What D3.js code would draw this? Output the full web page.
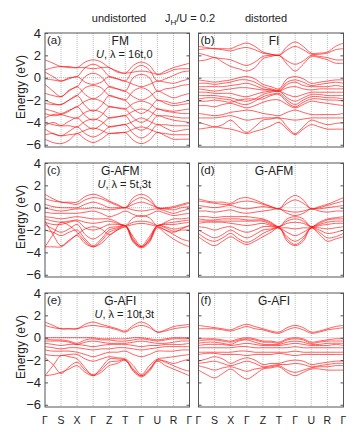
<!DOCTYPE html>
<html>
<head>
<meta charset="utf-8">
<script src="https://cdn.jsdelivr.net/npm/d3@7/dist/d3.min.js"></script>
<style>
  body { margin: 0; background: #fff; }
  text { font-family: "Liberation Sans", Arial, sans-serif; fill: #222; }
</style>
</head>
<body>
<div id="chart"></div>
<script>
// k-path labels (high symmetry points), bands sampled at each point and halfway between
var kLabels = ["Γ", "S", "X", "Γ", "Z", "T", "Γ", "U", "R", "Γ"];
var yTicks = [-6, -4, -2, 0, 2, 4];

// (a) undistorted FM
var bandsA = [
  [1.6, 1.3, 1.0, 1.0, 0.9, 1.4, 1.6, 1.4, 0.9, 0.6, 0.4, 1.1, 1.4, 1.1, 0.3, 0.6, 0.9, 1.1, 1.3],
  [0.7, 0.9, 1.0, 0.9, 0.9, 0.9, 0.8, 0.9, 0.9, 0.5, 0.4, 0.5, 0.6, 0.5, 0.3, 0.4, 0.7, 0.8, 0.8],
  [0.5, 0.1, -0.3, 0.0, 0.1, 0.9, 1.2, 0.9, 0.1, -0.1, -0.3, 0.7, 1.1, 0.7, -0.3, -0.1, 0.2, 0.5, 0.6],
  [-0.1, -0.2, -0.3, -0.1, 0.1, -0.4, -0.6, -0.4, 0.1, -0.1, -0.3, -0.6, -0.8, -0.6, -0.3, -0.4, -0.5, -0.3, -0.1],
  [-0.6, -1.2, -1.7, -1.1, -0.8, 0.1, 0.4, 0.1, -0.8, -1.0, -1.2, 0.0, 0.3, 0.0, -1.2, -1.0, -0.9, -0.7, -0.6],
  [-1.4, -1.6, -1.7, -1.2, -0.8, -1.5, -1.9, -1.5, -0.8, -1.0, -1.2, -1.7, -2.0, -1.7, -1.2, -1.5, -1.8, -1.6, -1.4],
  [-2.0, -2.3, -2.4, -2.0, -1.6, -0.9, -0.7, -0.9, -1.6, -1.8, -2.0, -1.2, -0.9, -1.2, -2.0, -2.1, -2.3, -2.2, -2.0],
  [-2.3, -2.4, -2.4, -2.0, -1.6, -2.5, -3.0, -2.5, -1.6, -1.8, -2.0, -2.8, -3.2, -2.8, -2.0, -2.3, -2.5, -2.4, -2.3],
  [-2.8, -3.0, -3.2, -2.9, -2.6, -2.1, -1.9, -2.1, -2.6, -2.7, -2.8, -2.3, -2.1, -2.3, -2.8, -2.9, -3.0, -2.9, -2.8],
  [-3.2, -3.4, -3.3, -3.0, -2.6, -3.4, -3.8, -3.4, -2.6, -2.7, -2.8, -3.6, -4.0, -3.6, -2.8, -3.0, -3.1, -3.2, -3.2],
  [-3.6, -3.3, -3.3, -3.5, -3.6, -3.1, -2.9, -3.1, -3.6, -3.5, -3.4, -3.0, -2.8, -3.0, -3.4, -3.4, -3.5, -3.6, -3.6],
  [-4.0, -4.2, -4.3, -3.9, -3.6, -4.2, -4.6, -4.2, -3.6, -3.5, -3.4, -4.3, -4.7, -4.3, -3.4, -3.6, -3.8, -3.9, -4.0],
  [-4.3, -4.0, -4.3, -4.3, -4.4, -3.9, -3.7, -3.9, -4.4, -4.3, -4.2, -3.9, -3.6, -3.9, -4.2, -4.2, -4.3, -4.3, -4.3],
  [-4.6, -5.0, -5.2, -4.8, -4.4, -5.0, -5.3, -5.0, -4.4, -4.3, -4.2, -5.0, -5.4, -5.0, -4.2, -4.5, -4.8, -4.7, -4.6],
  [-5.1, -5.0, -5.2, -5.1, -5.0, -4.7, -4.5, -4.7, -5.0, -4.9, -4.9, -4.6, -4.4, -4.6, -4.9, -5.0, -5.1, -5.1, -5.1],
  [-5.5, -5.8, -5.9, -5.6, -5.0, -5.5, -5.8, -5.5, -5.0, -5.0, -4.9, -5.6, -5.9, -5.6, -4.9, -5.2, -5.5, -5.5, -5.5]
];

// (b) distorted FI
var bandsB = [
  [2.8, 2.7, 2.6, 2.6, 2.6, 2.9, 3.1, 2.8, 2.3, 2.1, 2.0, 2.8, 3.2, 2.8, 2.2, 2.2, 2.3, 2.8, 3.1],
  [2.5, 2.6, 2.6, 2.5, 2.4, 2.6, 2.7, 2.5, 2.2, 2.1, 2.0, 2.5, 2.8, 2.5, 2.1, 2.1, 2.2, 2.5, 2.6],
  [2.2, 2.0, 1.8, 1.7, 1.6, 1.3, 1.1, 1.4, 1.9, 2.0, 2.0, 1.5, 1.2, 1.5, 2.0, 1.9, 1.8, 1.6, 1.6],
  [1.5, 1.6, 1.8, 1.4, 1.0, 0.8, 0.6, 0.9, 1.7, 1.9, 2.0, 1.2, 0.6, 1.2, 1.9, 1.8, 1.6, 1.3, 1.3],
  [-0.2, -0.3, -0.4, -0.3, -0.2, 0.0, 0.1, -0.1, -0.6, -0.8, -1.0, -0.1, 0.1, -0.1, -0.5, -0.4, -0.3, -0.2, -0.2],
  [-0.5, -0.5, -0.6, -0.5, -0.4, -0.2, -0.2, -0.4, -0.8, -1.0, -1.1, -0.4, -0.2, -0.4, -0.7, -0.6, -0.5, -0.4, -0.5],
  [-0.8, -0.8, -0.8, -0.8, -0.7, -0.6, -0.5, -0.7, -1.0, -1.1, -1.2, -0.6, -0.4, -0.7, -0.8, -0.8, -0.8, -0.7, -0.8],
  [-1.0, -1.1, -1.2, -1.1, -1.0, -0.9, -0.9, -1.0, -1.1, -1.1, -1.2, -0.9, -0.8, -1.0, -1.1, -1.0, -1.0, -1.0, -1.0],
  [-1.3, -1.3, -1.4, -1.4, -1.4, -1.6, -1.7, -1.5, -1.3, -1.2, -1.2, -1.5, -1.7, -1.5, -1.3, -1.3, -1.3, -1.3, -1.3],
  [-1.6, -1.6, -1.6, -1.7, -1.8, -2.0, -2.1, -1.9, -1.5, -1.3, -1.2, -1.8, -2.1, -1.8, -1.5, -1.5, -1.6, -1.6, -1.6],
  [-1.9, -1.8, -1.8, -1.9, -2.0, -2.3, -2.4, -2.1, -1.7, -1.5, -1.4, -2.0, -2.4, -2.0, -1.7, -1.7, -1.8, -1.8, -1.9],
  [-2.1, -2.1, -2.0, -2.1, -2.2, -2.0, -1.9, -1.9, -1.9, -1.6, -1.5, -2.2, -2.6, -2.2, -1.9, -1.9, -2.0, -2.0, -2.1],
  [-2.5, -2.5, -2.6, -2.4, -2.3, -2.5, -2.7, -2.5, -2.2, -2.0, -2.0, -2.4, -2.7, -2.4, -2.1, -2.2, -2.3, -2.4, -2.5],
  [-3.2, -3.3, -3.4, -3.3, -3.1, -3.0, -2.9, -3.0, -3.2, -3.3, -3.4, -3.1, -2.9, -3.1, -3.3, -3.3, -3.3, -3.3, -3.2],
  [-3.6, -3.6, -3.6, -3.5, -3.4, -3.6, -3.8, -3.7, -3.6, -3.6, -3.6, -3.7, -3.8, -3.7, -3.6, -3.6, -3.6, -3.6, -3.6],
  [-4.0, -4.2, -4.4, -4.2, -3.8, -4.4, -4.9, -4.4, -3.8, -3.7, -3.6, -4.4, -5.0, -4.4, -3.8, -4.0, -4.2, -4.1, -4.0],
  [-4.6, -4.5, -4.4, -4.5, -4.6, -4.8, -5.0, -4.8, -4.6, -4.3, -4.0, -4.6, -5.1, -4.6, -4.2, -4.4, -4.6, -4.6, -4.6]
];

// (c) undistorted G-AFM
var bandsC = [
  [1.2, 0.8, 0.5, 0.5, 0.5, 1.0, 1.2, 1.0, 0.6, 0.3, 0.0, 0.9, 1.2, 0.9, 0.0, 0.0, 0.1, 0.3, 0.5],
  [0.8, 0.6, 0.5, 0.4, 0.3, 0.7, 0.9, 0.8, 0.5, 0.2, 0.0, 0.6, 0.9, 0.6, 0.0, -0.1, 0.0, 0.2, 0.4],
  [0.3, 0.1, 0.0, 0.0, 0.0, 0.3, 0.5, 0.3, 0.0, 0.0, 0.0, 0.3, 0.5, 0.3, 0.0, -0.1, -0.2, 0.0, 0.1],
  [0.0, -0.2, -0.3, -0.2, -0.1, -0.1, 0.0, -0.1, -0.2, -0.1, 0.0, -0.2, -0.3, -0.2, -0.1, -0.3, -0.5, -0.3, -0.1],
  [-0.4, -0.5, -0.5, -0.5, -0.5, -0.4, -0.3, -0.5, -0.8, -0.6, -0.3, -0.6, -0.8, -0.6, -0.3, -0.5, -0.7, -0.6, -0.5],
  [-0.8, -0.9, -1.0, -0.9, -0.8, -0.9, -1.0, -1.0, -1.0, -1.3, -1.6, -0.9, -0.7, -0.9, -1.6, -1.3, -1.0, -1.0, -0.9],
  [-1.0, -1.2, -1.3, -1.2, -1.1, -1.3, -1.4, -1.3, -1.2, -1.4, -1.6, -1.3, -1.2, -1.3, -1.6, -1.4, -1.3, -1.2, -1.1],
  [-1.3, -1.5, -1.5, -1.3, -1.2, -1.8, -2.0, -1.8, -1.5, -1.5, -1.6, -2.6, -3.4, -2.6, -1.6, -1.5, -1.5, -1.4, -1.3],
  [-1.5, -1.9, -2.2, -1.9, -1.5, -2.4, -2.8, -2.4, -1.8, -1.7, -1.6, -2.8, -3.5, -2.8, -1.6, -1.7, -1.9, -1.8, -1.6],
  [-2.0, -2.2, -2.5, -2.2, -2.0, -2.8, -3.4, -2.8, -2.0, -1.8, -1.6, -2.9, -3.5, -2.9, -1.6, -1.8, -2.1, -2.0, -2.0],
  [-3.5, -2.4, -1.3, -1.6, -2.2, -3.0, -3.5, -3.0, -2.2, -1.9, -1.6, -3.0, -3.5, -3.0, -1.7, -2.0, -2.4, -2.8, -3.0],
  [-3.5, -3.5, -3.5, -3.0, -2.5, -3.2, -3.5, -3.2, -2.5, -2.0, -1.7, -3.1, -3.6, -3.1, -1.8, -2.3, -2.8, -3.2, -3.5],
  [-1.2, -2.4, -3.4, -2.9, -2.4, -1.9, -1.7, -1.9, -2.4, -2.0, -1.7, -1.5, -1.4, -1.5, -1.7, -2.0, -2.2, -1.9, -1.6]
];

// (d) distorted G-AFM
var bandsD = [
  [0.8, 0.6, 0.5, 0.5, 0.4, 0.8, 0.9, 0.7, 0.4, 0.1, -0.1, 0.7, 1.1, 0.7, -0.1, 0.1, 0.3, 0.6, 0.9],
  [0.6, 0.5, 0.4, 0.3, 0.3, 0.5, 0.6, 0.5, 0.3, 0.1, -0.1, 0.4, 0.7, 0.4, -0.1, 0.0, 0.2, 0.4, 0.6],
  [0.2, 0.1, 0.0, 0.1, 0.2, 0.0, -0.1, 0.0, 0.1, 0.0, -0.1, -0.3, -0.4, -0.3, -0.1, -0.1, 0.0, 0.1, 0.2],
  [-0.3, -0.3, -0.4, -0.3, -0.2, -0.4, -0.5, -0.4, -0.3, -0.2, -0.1, -0.5, -0.7, -0.5, -0.1, -0.3, -0.4, -0.3, -0.3],
  [-0.8, -0.8, -0.9, -0.8, -0.8, -0.8, -0.8, -0.9, -1.0, -1.3, -1.7, -1.0, -0.8, -1.0, -1.7, -1.3, -1.0, -0.9, -0.8],
  [-1.0, -1.1, -1.1, -1.0, -1.0, -1.0, -1.1, -1.1, -1.1, -1.4, -1.7, -1.2, -1.0, -1.2, -1.7, -1.4, -1.1, -1.0, -1.0],
  [-1.2, -1.2, -1.2, -1.2, -1.2, -1.2, -1.2, -1.2, -1.2, -1.5, -1.7, -1.4, -1.3, -1.4, -1.7, -1.5, -1.3, -1.2, -1.2],
  [-1.4, -1.3, -1.3, -1.3, -1.4, -1.5, -1.6, -1.5, -1.4, -1.6, -1.8, -1.8, -1.9, -1.8, -1.8, -1.6, -1.5, -1.4, -1.4],
  [-1.7, -1.8, -2.0, -1.8, -1.7, -2.0, -2.2, -2.0, -1.7, -1.7, -1.8, -2.2, -2.5, -2.2, -1.8, -1.8, -1.9, -1.8, -1.7],
  [-2.0, -2.4, -2.7, -2.4, -2.0, -2.4, -2.7, -2.4, -2.0, -1.9, -1.8, -2.6, -3.0, -2.6, -1.8, -2.0, -2.3, -2.2, -2.0],
  [-2.3, -2.8, -3.0, -2.7, -2.3, -2.8, -3.1, -2.8, -2.3, -2.0, -1.8, -2.8, -3.3, -2.8, -1.8, -2.2, -2.7, -2.6, -2.3],
  [-2.6, -3.1, -3.4, -3.0, -2.6, -3.0, -3.3, -3.0, -2.6, -2.2, -1.8, -3.0, -3.4, -3.0, -1.8, -2.4, -3.0, -2.8, -2.6]
];

// (e) undistorted G-AFI
var bandsE = [
  [1.4, 1.1, 0.8, 0.8, 0.8, 1.2, 1.4, 1.2, 1.0, 0.8, 0.6, 1.1, 1.4, 1.1, 0.5, 0.7, 1.0, 1.1, 1.2],
  [1.1, 0.9, 0.8, 0.8, 0.8, 1.0, 1.1, 1.0, 0.9, 0.7, 0.5, 0.9, 1.1, 0.9, 0.5, 0.6, 0.8, 0.9, 1.0],
  [0.0, 0.0, 0.0, 0.0, 0.0, 0.0, 0.0, -0.1, -0.1, -0.1, -0.1, 0.0, 0.0, -0.1, -0.2, -0.1, 0.0, 0.0, 0.0],
  [-0.1, -0.2, -0.2, -0.3, -0.5, -0.2, -0.1, -0.2, -0.2, -0.3, -0.3, -0.2, -0.1, -0.2, -0.3, -0.2, -0.1, -0.1, -0.1],
  [-0.3, -0.3, -0.3, -0.4, -0.6, -0.4, -0.3, -0.4, -0.5, -0.5, -0.5, -0.4, -0.3, -0.4, -0.5, -0.5, -0.4, -0.3, -0.3],
  [-0.5, -0.6, -0.7, -0.6, -0.6, -0.7, -0.8, -0.7, -0.6, -0.6, -0.6, -0.7, -0.8, -0.7, -0.7, -0.6, -0.6, -0.6, -0.5],
  [-0.8, -0.9, -1.0, -0.9, -0.9, -1.0, -1.1, -1.0, -1.0, -0.9, -0.9, -1.0, -1.1, -1.0, -0.9, -0.8, -0.8, -0.8, -0.8],
  [-1.1, -1.2, -1.2, -1.2, -1.3, -1.5, -1.7, -1.5, -1.3, -1.3, -1.2, -1.5, -1.7, -1.5, -1.2, -1.2, -1.2, -1.1, -1.1],
  [-1.5, -1.6, -1.6, -1.5, -1.5, -1.9, -2.1, -1.9, -1.7, -1.8, -1.9, -2.5, -3.3, -2.5, -1.9, -1.8, -1.7, -1.6, -1.5],
  [-1.8, -2.4, -3.2, -2.6, -2.2, -2.9, -3.3, -2.9, -2.2, -2.1, -2.0, -2.8, -3.4, -2.8, -2.0, -2.1, -2.3, -2.1, -1.9],
  [-3.4, -2.5, -1.6, -1.7, -1.9, -2.7, -3.4, -2.7, -1.9, -1.9, -2.0, -2.9, -3.4, -2.9, -2.0, -2.2, -2.5, -2.8, -3.0],
  [-3.4, -3.3, -3.1, -2.8, -2.5, -3.1, -3.4, -3.1, -2.5, -2.3, -2.0, -3.0, -3.5, -3.0, -2.1, -2.5, -2.8, -3.1, -3.4]
];

// (f) distorted G-AFI
var bandsF = [
  [1.1, 1.0, 0.9, 0.8, 0.7, 1.0, 1.2, 1.0, 0.8, 0.6, 0.5, 0.9, 1.1, 0.9, 0.5, 0.6, 0.8, 1.0, 1.1],
  [0.8, 0.8, 0.8, 0.7, 0.6, 0.8, 1.0, 0.8, 0.7, 0.5, 0.4, 0.7, 0.9, 0.7, 0.4, 0.5, 0.7, 0.8, 0.9],
  [-0.1, -0.1, -0.1, -0.2, -0.3, -0.1, 0.0, -0.1, -0.3, -0.3, -0.4, -0.1, 0.0, -0.1, -0.4, -0.3, -0.2, -0.1, -0.1],
  [-0.3, -0.2, -0.2, -0.3, -0.4, -0.2, -0.1, -0.2, -0.4, -0.4, -0.5, -0.2, -0.1, -0.2, -0.5, -0.4, -0.3, -0.3, -0.3],
  [-0.5, -0.4, -0.4, -0.5, -0.6, -0.3, -0.2, -0.4, -0.6, -0.6, -0.6, -0.4, -0.3, -0.4, -0.6, -0.6, -0.5, -0.5, -0.5],
  [-0.7, -0.6, -0.6, -0.6, -0.7, -0.6, -0.5, -0.6, -0.7, -0.7, -0.7, -0.6, -0.5, -0.6, -0.7, -0.7, -0.7, -0.6, -0.7],
  [-0.9, -0.9, -0.9, -0.9, -0.9, -0.8, -0.8, -0.9, -0.9, -0.9, -0.9, -0.9, -0.8, -0.9, -0.9, -0.9, -0.9, -0.9, -0.9],
  [-1.3, -1.3, -1.3, -1.3, -1.3, -1.2, -1.2, -1.3, -1.3, -1.3, -1.3, -1.3, -1.2, -1.3, -1.3, -1.3, -1.3, -1.3, -1.3],
  [-1.5, -1.4, -1.4, -1.5, -1.5, -1.5, -1.6, -1.5, -1.5, -1.5, -1.4, -1.5, -1.6, -1.5, -1.5, -1.5, -1.5, -1.5, -1.5],
  [-2.1, -1.9, -1.7, -1.9, -2.3, -2.0, -1.8, -2.0, -2.4, -2.3, -2.3, -2.1, -2.0, -2.1, -2.4, -2.3, -2.2, -2.1, -2.1],
  [-2.3, -2.2, -2.1, -2.3, -2.5, -2.3, -2.1, -2.3, -2.6, -2.5, -2.4, -2.4, -2.3, -2.4, -2.6, -2.5, -2.4, -2.3, -2.3],
  [-2.5, -2.7, -2.9, -2.7, -2.6, -2.8, -3.0, -2.8, -2.7, -2.6, -2.5, -2.9, -3.1, -2.9, -2.7, -2.6, -2.6, -2.5, -2.5],
  [-2.9, -3.3, -3.6, -3.2, -2.8, -3.3, -3.7, -3.3, -2.8, -2.7, -2.6, -3.1, -3.4, -3.1, -2.8, -2.8, -2.9, -2.9, -2.9]
];

var panels = [
  { tag: "(a)", name: "FM", params: "16t,0", col: 0, row: 0, bands: bandsA },
  { tag: "(b)", name: "FI", params: null, col: 1, row: 0, bands: bandsB },
  { tag: "(c)", name: "G-AFM", params: "5t,3t", col: 0, row: 1, bands: bandsC },
  { tag: "(d)", name: "G-AFM", params: null, col: 1, row: 1, bands: bandsD },
  { tag: "(e)", name: "G-AFI", params: "10t,3t", col: 0, row: 2, bands: bandsE },
  { tag: "(f)", name: "G-AFI", params: null, col: 1, row: 2, bands: bandsF }
];

// layout
var svgWidth = 354;
var svgHeight = 432;
var colX = [[45, 189.5], [198.5, 343.5]];
var rowTop = [33, 163, 293];
var panelHeight = 114;

var svg = d3.select("#chart")
  .append("svg")
  .attr("width", svgWidth)
  .attr("height", svgHeight);

// column headers
svg.append("text")
  .attr("x", 119).attr("y", 22)
  .attr("text-anchor", "middle")
  .attr("font-size", 11)
  .text("undistorted");

var jh = svg.append("text")
  .attr("x", 190).attr("y", 22)
  .attr("text-anchor", "middle")
  .attr("font-size", 11);
jh.append("tspan").text("J");
jh.append("tspan").attr("font-size", 8).attr("dy", 3).text("H");
jh.append("tspan").attr("dy", -3).text("/U = 0.2");

svg.append("text")
  .attr("x", 266).attr("y", 22)
  .attr("text-anchor", "middle")
  .attr("font-size", 11)
  .text("distorted");

panels.forEach(function(p, pi) {
  var x0 = colX[p.col][0], x1 = colX[p.col][1];
  var top = rowTop[p.row];

  var xScale = d3.scaleLinear().domain([0, 18]).range([x0, x1]);
  var yScale = d3.scaleLinear().domain([-6.2, 4]).range([top + panelHeight, top]);

  var g = svg.append("g");

  // clip bands to the frame
  g.append("clipPath")
    .attr("id", "clip" + pi)
    .append("rect")
    .attr("x", x0).attr("y", top)
    .attr("width", x1 - x0).attr("height", panelHeight);

  // vertical grid at high symmetry points
  g.selectAll("line.kgrid")
    .data(kLabels.slice(1, -1))
    .enter()
    .append("line")
    .attr("class", "kgrid")
    .attr("x1", (d, i) => xScale((i + 1) * 2))
    .attr("x2", (d, i) => xScale((i + 1) * 2))
    .attr("y1", top)
    .attr("y2", top + panelHeight)
    .attr("stroke", "#aaa")
    .attr("stroke-width", 0.8)
    .attr("stroke-dasharray", "1,1");

  // Fermi level
  g.append("line")
    .attr("x1", x0).attr("x2", x1)
    .attr("y1", yScale(0)).attr("y2", yScale(0))
    .attr("stroke", "#aaa")
    .attr("stroke-width", 0.8)
    .attr("stroke-dasharray", "1,1");

  // bands
  var line = d3.line()
    .x((d, i) => xScale(i))
    .y(d => yScale(d))
    .curve(d3.curveCatmullRom.alpha(0.5));

  g.append("g")
    .attr("clip-path", "url(#clip" + pi + ")")
    .selectAll("path")
    .data(p.bands)
    .enter()
    .append("path")
    .attr("d", line)
    .attr("fill", "none")
    .attr("stroke", "#ff1a1a")
    .attr("stroke-width", 0.7);

  // axes: inward ticks on both sides
  var yLeft = d3.axisLeft(yScale).tickValues(yTicks).tickSize(-3).tickPadding(4);
  if (p.col === 1) yLeft.tickFormat("");
  var axL = g.append("g")
    .attr("transform", `translate(${x0},0)`)
    .call(yLeft);
  axL.select(".domain").remove();
  axL.selectAll("line").attr("stroke", "#555");
  axL.selectAll("text")
    .attr("font-size", 13)
    .attr("font-family", "Liberation Sans, Arial, sans-serif")
    .attr("fill", "#222");

  var axR = g.append("g")
    .attr("transform", `translate(${x1},0)`)
    .call(d3.axisRight(yScale).tickValues(yTicks).tickSize(-3).tickFormat(""));
  axR.select(".domain").remove();
  axR.selectAll("line").attr("stroke", "#555");

  // frame
  g.append("rect")
    .attr("x", x0).attr("y", top)
    .attr("width", x1 - x0).attr("height", panelHeight)
    .attr("fill", "none")
    .attr("stroke", "#555")
    .attr("stroke-width", 1);

  // panel texts
  g.append("text")
    .attr("x", x0 + 2).attr("y", top + 11)
    .attr("font-size", 11.5)
    .text(p.tag);

  g.append("text")
    .attr("x", (x0 + x1) / 2 + 3).attr("y", top + 12)
    .attr("text-anchor", "middle")
    .attr("font-size", 12)
    .text(p.name);

  if (p.params) {
    var t = g.append("text")
      .attr("x", (x0 + x1) / 2 + 7).attr("y", top + 25)
      .attr("text-anchor", "middle")
      .attr("font-size", 11);
    t.append("tspan").attr("font-style", "italic").text("U");
    t.append("tspan").text(", λ = " + p.params);
  }

  // y label on the left column
  if (p.col === 0) {
    svg.append("text")
      .attr("transform", `translate(25,${top + panelHeight / 2 - 3}) rotate(-90)`)
      .attr("text-anchor", "middle")
      .attr("font-size", 12)
      .text("Energy (eV)");
  }

  // k labels under the bottom row
  if (p.row === 2) {
    svg.append("g")
      .selectAll("text")
      .data(kLabels)
      .enter()
      .append("text")
      .attr("x", (d, i) => xScale(i * 2))
      .attr("y", 424)
      .attr("text-anchor", "middle")
      .attr("font-size", 10.5)
      .text(d => d);
  }
});
</script>
</body>
</html>
